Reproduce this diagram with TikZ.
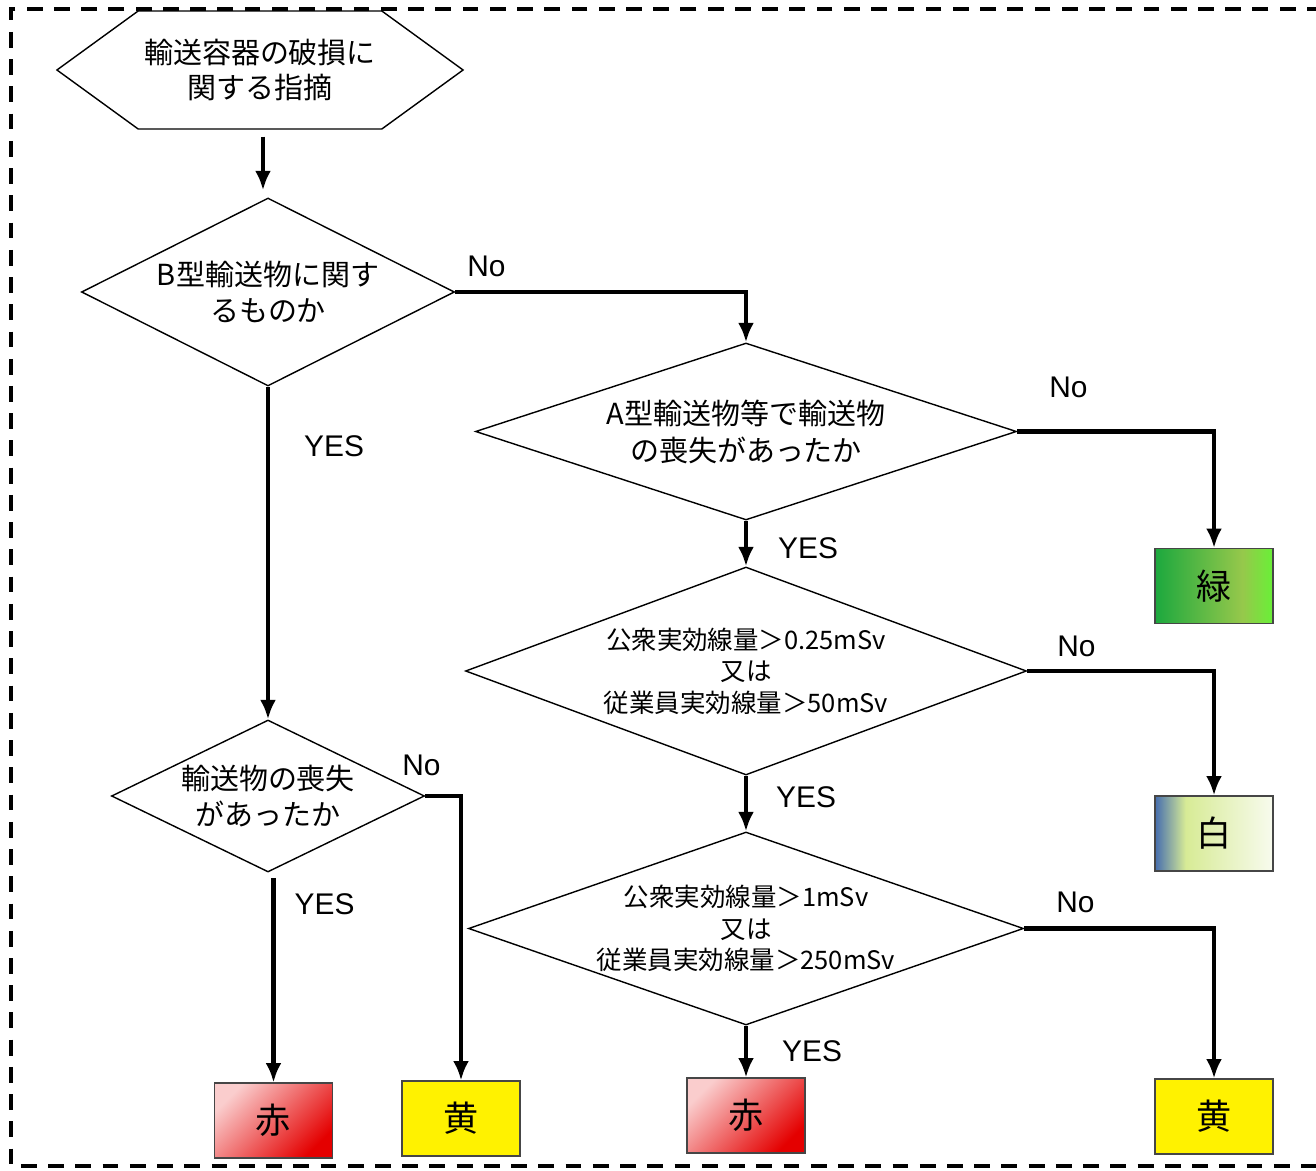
\documentclass[tikz,border=0pt]{standalone}
\usepackage{fontspec}
\setmainfont{Noto Sans CJK JP}
\newfontfamily\latinfont{Liberation Sans}
\usetikzlibrary{shapes,arrows.meta,positioning,calc}

\definecolor{boxline}{RGB}{70,70,70}
\definecolor{redlight}{RGB}{250,205,205}
\definecolor{reddark}{RGB}{228,0,0}
\definecolor{greenA}{RGB}{28,168,62}
\definecolor{greenM}{RGB}{150,200,75}
\definecolor{greenB}{RGB}{105,240,55}
\definecolor{whiteA}{RGB}{70,110,175}
\definecolor{whiteM}{RGB}{215,235,150}
\definecolor{whiteB}{RGB}{248,251,238}
\pgfdeclarehorizontalshading{greenshade}{100bp}{color(0bp)=(greenA); color(25bp)=(greenA); color(62bp)=(greenM); color(75bp)=(greenB); color(100bp)=(greenB)}
\pgfdeclarehorizontalshading{whiteshade}{100bp}{color(0bp)=(whiteA); color(25bp)=(whiteA); color(38bp)=(whiteM); color(75bp)=(whiteB); color(100bp)=(whiteB)}

\tikzset{
terminal/.style = {draw, signal, signal to=west and east, signal pointer angle=72, fill=white, line width=0.8pt, minimum width=8.04cm, minimum height=2.36cm, align=center, font=\fontsize{16.5}{20}\selectfont},
decision/.style = {draw, diamond, fill=white, inner sep=0pt, line width=0.8pt, align=center, font=\fontsize{16.5}{21}\selectfont},
dose/.style = {decision, font=\fontsize{14.5}{18}\selectfont},
block/.style = {draw=boxline, rectangle, line width=0.6pt, minimum width=2.36cm, minimum height=1.5cm, font=\fontsize{20}{24}\selectfont},
line/.style = {draw, line width=2.5pt},
lbl/.style = {inner sep=0pt, font=\latinfont\fontsize{17}{20}\selectfont}
}

\begin{document}
\begin{tikzpicture}[auto, node distance=2cm,>={Latex[length=11pt,width=9pt]}]
                \useasboundingbox (0,0) rectangle (26.32,-23.42);

                % left column
                \node [terminal] (start) at (5.20,-1.40) {輸送容器の破損に\\関する指摘};
                \node [decision, below of=start, node distance=4.44cm, xshift=0.16cm, aspect=1.98, minimum width=7.46cm, minimum height=3.76cm] (btype) {B型輸送物に関す\\るものか};
                \node [decision, below of=btype, node distance=10.08cm, aspect=2.06, minimum width=6.26cm, minimum height=3.04cm] (lost1) {輸送物の喪失\\があったか};
                \node [block, below of=lost1, node distance=6.49cm, xshift=0.11cm, top color=redlight, bottom color=reddark, shading angle=45] (red1) {赤};
                \node [block, right of=red1, node distance=3.75cm, yshift=0.04cm, fill=yellow] (yel1) {黄};

                % right column
                \node [decision, aspect=3.06, minimum width=10.82cm, minimum height=3.54cm] (atype) at (14.92,-8.63) {A型輸送物等で輸送物\\の喪失があったか};
                \node [dose, below of=atype, node distance=4.79cm, aspect=2.7, minimum width=11.22cm, minimum height=4.16cm] (dose1) {公衆実効線量＞0.25mSv\\又は\\従業員実効線量＞50mSv};
                \node [dose, below of=dose1, node distance=5.15cm, aspect=2.88, minimum width=11.10cm, minimum height=3.86cm] (dose2) {公衆実効線量＞1mSv\\又は\\従業員実効線量＞250mSv};
                \node [block, below of=dose2, node distance=3.74cm, top color=redlight, bottom color=reddark, shading angle=45] (red2) {赤};
                \node [block, shading=greenshade] (green) at (24.28,-11.72) {緑};
                \node [block, below of=green, node distance=4.95cm, shading=whiteshade] (white) {白};
                \node [block, below of=white, node distance=5.66cm, fill=yellow] (yel2) {黄};

                \draw [line,->,shorten <=4pt,shorten >=4pt] ([xshift=0.06cm]start.south) -- ([xshift=0.06cm]start.south |- btype.north);
                \draw [line,->] (btype.east) -| node [lbl, pos=0, anchor=south west, xshift=0.2cm, yshift=0.26cm] {No} (atype.north);
                \draw [line,->] (btype.south) -- node [lbl, pos=0.18, anchor=west, xshift=0.68cm] {YES} (lost1.north);
                \draw [line,->] (lost1.east) -| node [lbl, pos=0, anchor=south west, xshift=-0.5cm, yshift=0.36cm] {No} (yel1.north);
                \draw [line,->,shorten <=3pt] (red1.north |- lost1.south) -- node [lbl, pos=0.15, anchor=west, xshift=0.38cm] {YES} (red1.north);

                \draw [line,->] (atype.east) -| node [lbl, pos=0, anchor=south west, xshift=0.6cm, yshift=0.64cm] {No} (green.north);
                \draw [line,->] (atype.south) -- node [lbl, pos=0.6, anchor=west, xshift=0.6cm] {YES} (dose1.north);
                \draw [line,->] (dose1.east) -| node [lbl, pos=0, anchor=south west, xshift=0.56cm, yshift=0.24cm] {No} (white.north);
                \draw [line,->] (dose1.south) -- node [lbl, pos=0.39, anchor=west, xshift=0.56cm] {YES} (dose2.north);
                \draw [line,->] (dose2.east) -| node [lbl, pos=0, anchor=south west, xshift=0.6cm, yshift=0.28cm] {No} (yel2.north);
                \draw [line,->] (dose2.south) -- node [lbl, pos=0.49, anchor=west, xshift=0.68cm] {YES} (red2.north);

                % frame
                \draw [line width=2pt, dash pattern=on 9pt off 6.5pt] (27,-0.18) -- (0.22,-0.18) -- (0.22,-23.32) -- (27,-23.32);
            \end{tikzpicture}
\end{document}
